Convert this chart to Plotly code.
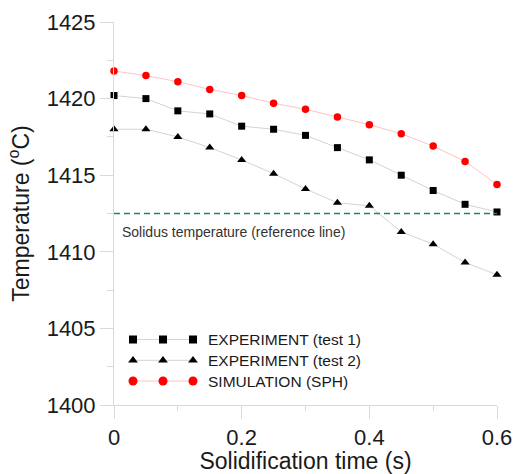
import plotly.graph_objects as go

# ---- data ----
time_s = [0, 0.05, 0.1, 0.15, 0.2, 0.25, 0.3, 0.35, 0.4, 0.45, 0.5, 0.55, 0.6]
exp_test1 = [1420.2, 1420.0, 1419.2, 1419.0, 1418.2, 1418.0, 1417.6, 1416.8, 1416.0, 1415.0, 1414.0, 1413.1, 1412.6]
exp_test2 = [1418.0, 1418.0, 1417.5, 1416.8, 1416.0, 1415.1, 1414.1, 1413.2, 1413.0, 1411.3, 1410.5, 1409.3, 1408.5]
sim_sph = [1421.8, 1421.5, 1421.1, 1420.6, 1420.2, 1419.7, 1419.3, 1418.8, 1418.3, 1417.7, 1416.9, 1415.9, 1414.4]
solidus_temp = 1412.5
solidus_label = "Solidus temperature (reference line)"

series_names = ["EXPERIMENT (test 1)", "EXPERIMENT (test 2)", "SIMULATION (SPH)"]
series_values = [exp_test1, exp_test2, sim_sph]
series_symbols = ["square", "triangle-up", "circle"]
series_marker_colors = ["#000000", "#000000", "#ff0000"]
series_line_colors = ["#d3d3d3", "#d3d3d3", "#ffc4c4"]
series_sizes = [7, 8, 7.5]
legend_sizes = [8, 8.5, 9]

FONT = "Arial"
AX = "#d9d9d9"

fig = go.Figure()

for name, vals, sym, mc, lc, sz in zip(series_names, series_values, series_symbols,
                                       series_marker_colors, series_line_colors, series_sizes):
    fig.add_trace(go.Scatter(
        x=time_s, y=vals, mode="lines+markers", name=name, showlegend=False,
        line=dict(color=lc, width=1),
        marker=dict(symbol=sym, color=mc, size=sz),
        cliponaxis=False,
    ))

# reference line
fig.add_trace(go.Scatter(
    x=[time_s[0], time_s[-1]], y=[solidus_temp, solidus_temp], mode="lines",
    showlegend=False, line=dict(color="#1e8a4c", width=1.5, dash="6px,4px"),
    hoverinfo="skip", cliponaxis=False,
))
fig.add_annotation(x=0.01, y=solidus_temp - 1.2, xref="x", yref="y", text=solidus_label,
                   showarrow=False, xanchor="left", yanchor="middle",
                   font=dict(family=FONT, size=14, color="#333333"))

# custom legend (three symbols per entry) drawn on an overlay pixel-like axis
leg_x = [19, 49, 79]
leg_rows = [317.5, 338.3, 359]
for name, sym, mc, lc, sz, ry in zip(series_names, series_symbols, series_marker_colors,
                                     series_line_colors, legend_sizes, leg_rows):
    fig.add_trace(go.Scatter(
        x=leg_x, y=[ry] * len(leg_x), mode="lines+markers", xaxis="x2", yaxis="y2",
        showlegend=False, hoverinfo="skip",
        line=dict(color=lc, width=1),
        marker=dict(symbol=sym, color=mc, size=sz),
    ))
    fig.add_annotation(x=92, y=ry, xref="x2", yref="y2", text=name, showarrow=False,
                       xanchor="left", yanchor="middle",
                       font=dict(family=FONT, size=15.5, color="#1a1a1a"))

axis_common = dict(
    showline=True, linecolor=AX, linewidth=1, ticks="outside", ticklen=13,
    tickcolor=AX, tickwidth=1, showgrid=False, zeroline=False, automargin=False,
    tickfont=dict(family=FONT, size=22, color="#1a1a1a"),
)

fig.update_layout(
    width=514, height=474,
    margin=dict(l=114, r=17, t=22, b=69, autoexpand=False),
    paper_bgcolor="white", plot_bgcolor="white",
    font=dict(family=FONT),
    xaxis=dict(range=[0, 0.6], dtick=0.2, tick0=0,
               minor=dict(ticks="outside", ticklen=5, tickcolor=AX, dtick=0.1, showgrid=False),
               title=dict(text="Solidification time (s)", standoff=0,
                          font=dict(family=FONT, size=23, color="#1a1a1a")),
               **axis_common),
    yaxis=dict(range=[1400, 1425], dtick=5, tick0=1400,
               minor=dict(ticks="outside", ticklen=6, tickcolor=AX, dtick=2.5, showgrid=False),
               title=dict(text="Temperature (<sup>o</sup>C)", standoff=10,
                          font=dict(family=FONT, size=23, color="#1a1a1a")),
               **axis_common),
    xaxis2=dict(range=[0, 383], overlaying="x", visible=False, anchor="y2", automargin=False),
    yaxis2=dict(range=[383, 0], overlaying="y", visible=False, anchor="x2", automargin=False),
)

fig.write_html("out.html")
